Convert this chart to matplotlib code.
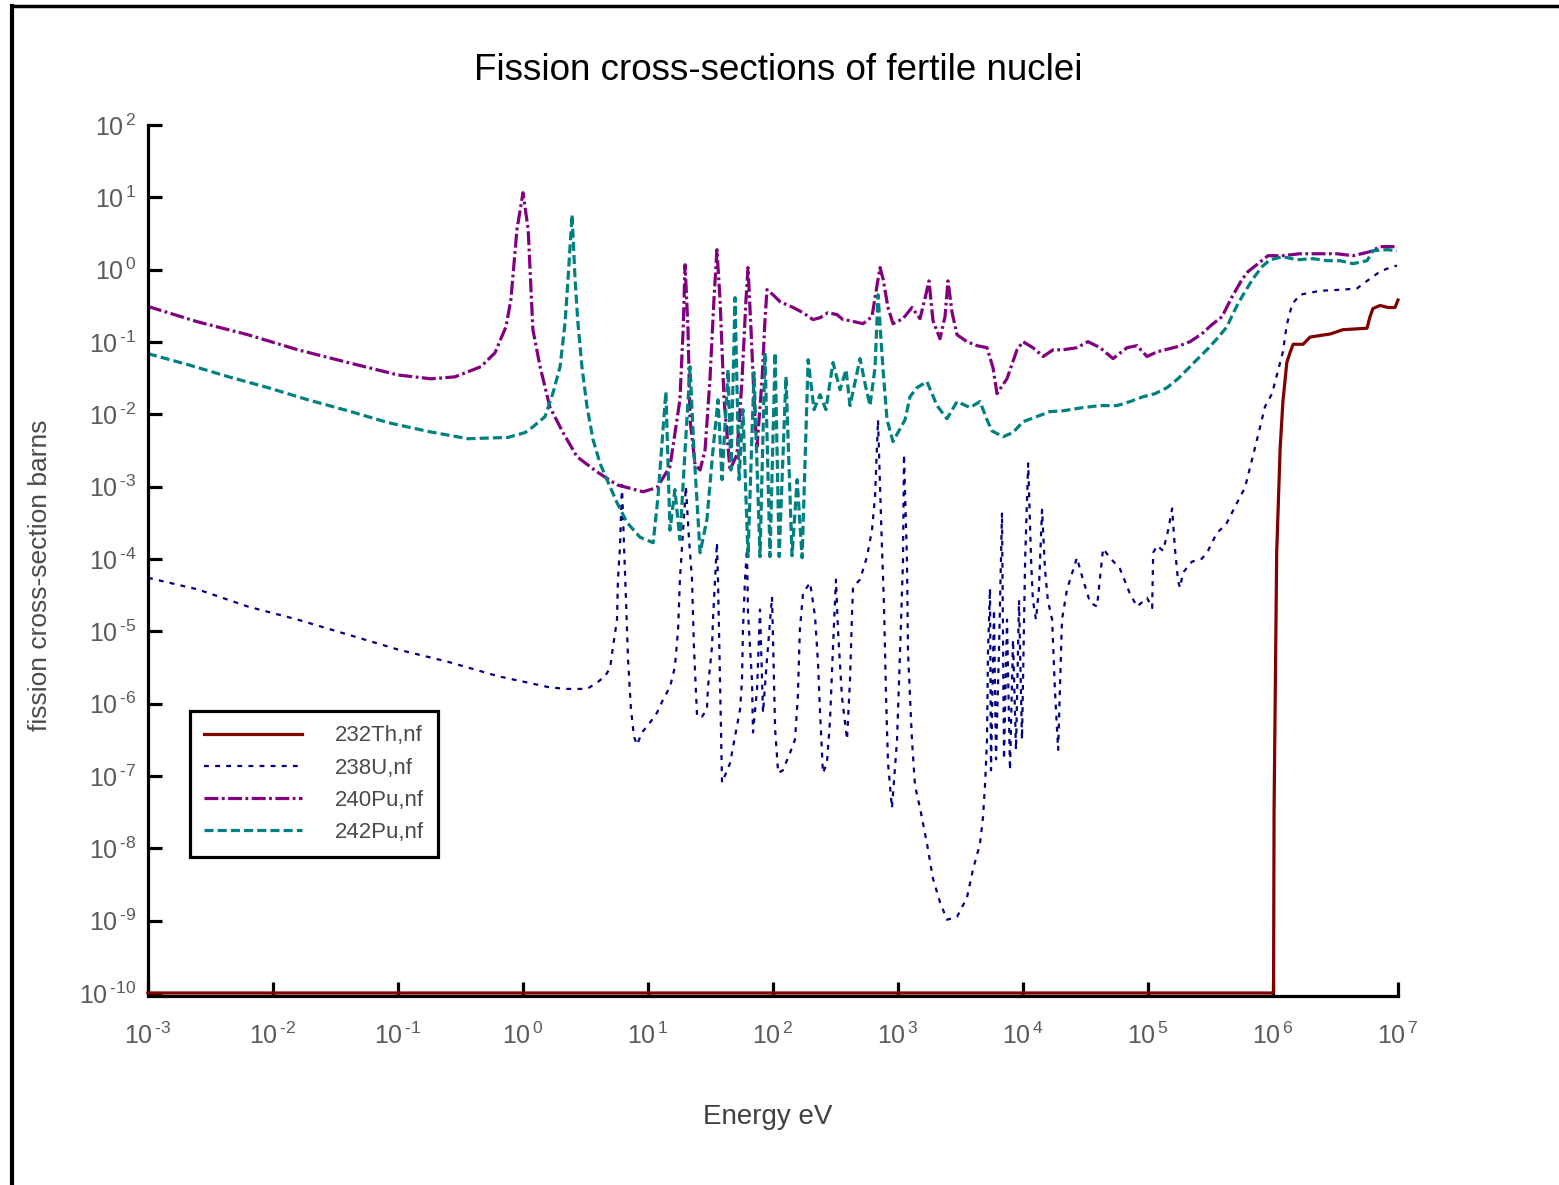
"""Fission cross-sections of fertile nuclei (232Th, 238U, 240Pu, 242Pu)
"""
import matplotlib
matplotlib.use('Agg')
import matplotlib.pyplot as plt
from matplotlib.lines import Line2D
from matplotlib.ticker import FixedLocator, NullLocator, FixedFormatter
from matplotlib import font_manager

# ---- data (energy in eV, cross-section in barns) ----
th232_e = [1e-3, 1.01e6, 1.02e6, 1.07e6, 1.14e6, 1.2e6, 1.29e6, 1.37e6, 1.45e6,
           1.74e6, 1.98e6, 2.86e6, 3.63e6, 5.65e6, 5.97e6, 6.3e6, 7.18e6,
           8.3e6, 9.46e6, 1e7]
th232_xs = [1e-10, 1e-10, 3.4e-8, 1.2e-4, 3.3e-3, 1.5e-2, 5.2e-2, 7.2e-2, 9.3e-2,
            9.3e-2, 0.117, 0.129, 0.148, 0.155, 0.224, 0.29, 0.32,
            0.30, 0.30, 0.38]

u238_e = [1e-3, 2.5e-3, 6.3e-3, 1.58e-2, 3.98e-2, 0.1, 0.25, 0.63, 1.58, 2.17,
          3.25, 3.91, 4.53, 4.97, 5.25, 5.65, 5.75, 5.97, 6.19, 6.43,
          6.67, 6.92, 7.31, 7.73, 8.17, 8.95, 10.4, 11.8, 13.2, 15.0,
          16.4, 17.4, 18.0, 19.1, 20.1, 21.3, 22.5, 23.3, 24.7, 27.0,
          29.6, 30.2, 32.5, 33.1, 34.4, 35.6, 36.3, 37.7, 39.1, 42.1,
          45.3, 47.9, 51.5, 54.5, 56.5, 57.5, 59.7, 61.9, 63.1, 67.9,
          69.2, 74.5, 78.7, 83.2, 89.5, 98.2, 104, 110, 120, 137,
          150, 158, 164, 174, 198, 217, 229, 238, 251, 270,
          286, 302, 319, 331, 356, 391, 413, 429, 437, 497,
          565, 619, 655, 692, 731, 773, 802, 832, 895, 982,
          1038, 1096, 1117, 1180, 1202, 1294, 1368, 1500, 1706, 1905,
          2168, 2466, 2965, 3565, 3981, 4529, 4786, 4966, 5152, 5248,
          5445, 5546, 5861, 6081, 6427, 6792, 7047, 7447, 7870, 8318,
          8790, 9290, 9817, 1.04e4, 1.10e4, 1.16e4, 1.20e4, 1.27e4, 1.34e4, 1.42e4,
          1.50e4, 1.58e4, 1.71e4, 1.80e4, 1.91e4, 2.05e4, 2.25e4, 2.70e4, 3.02e4, 3.44e4,
          3.91e4, 4.37e4, 4.97e4, 5.97e4, 7.18e4, 8.17e4, 9.82e4, 1.08e5, 1.10e5, 1.18e5,
          1.32e5, 1.45e5, 1.56e5, 1.64e5, 1.74e5, 1.80e5, 1.91e5, 2.25e5, 2.70e5, 3.02e5,
          3.56e5, 4.21e5, 4.97e5, 5.97e5, 6.92e5, 7.59e5, 8.63e5, 9.82e5, 1.08e6, 1.20e6,
          1.29e6, 1.42e6, 1.64e6, 2.38e6, 3.63e6, 4.70e6, 5.97e6, 7.18e6, 8.17e6, 9.82e6]
u238_xs = [5.5e-5, 3.8e-5, 2.2e-5, 1.45e-5, 9.0e-6, 5.6e-6, 3.8e-6, 2.4e-6, 1.7e-6, 1.6e-6,
           1.6e-6, 1.95e-6, 2.4e-6, 3.1e-6, 6.1e-6, 1.45e-5, 5.2e-5, 1.48e-4, 1.06e-3, 1.48e-4,
           2.7e-5, 4.1e-6, 8.3e-7, 3.5e-7, 2.7e-7, 4.0e-7, 5.5e-7, 7.5e-7, 1.14e-6, 1.7e-6,
           3.2e-6, 1.05e-5, 5.2e-5, 2.5e-4, 1.0e-3, 1.85e-4, 5.2e-5, 6.1e-6, 6.6e-7, 6.6e-7,
           8.3e-7, 1.7e-6, 6.1e-6, 1.45e-5, 5.2e-5, 1.68e-4, 5.2e-5, 2.1e-6, 8.1e-8, 1.1e-7,
           1.5e-7, 2.5e-7, 4.8e-7, 8.3e-7, 2.1e-6, 1.05e-5, 5.2e-5, 1.35e-4, 1.8e-5, 2.1e-6,
           4.0e-7, 1.56e-6, 2.0e-5, 7.5e-7, 4.1e-6, 3.0e-5, 4.4e-7, 1.1e-7, 1.2e-7, 2.1e-7,
           3.2e-7, 1.25e-6, 1.05e-5, 3.4e-5, 4.7e-5, 1.6e-5, 3.7e-6, 7.5e-7, 1.1e-7, 1.5e-7,
           6.0e-7, 6.1e-6, 5.2e-5, 1.05e-5, 1.25e-6, 3.2e-7, 2.1e-6, 1.8e-5, 4.1e-5, 5.2e-5,
           1.08e-4, 2.5e-4, 7.3e-4, 8.4e-3, 3.7e-4, 2.2e-5, 1.29e-6, 1.5e-7, 3.6e-8, 3.1e-7,
           5.2e-6, 9.2e-5, 2.8e-3, 9.2e-5, 5.2e-6, 3.1e-7, 7.4e-8, 3.6e-8, 1.16e-8, 3.8e-9,
           1.8e-9, 1.03e-9, 1.13e-9, 2.1e-9, 5.1e-9, 1.16e-8, 2.7e-8, 7.4e-8, 3.1e-7, 5.2e-6,
           3.9e-5, 1.2e-7, 2.0e-5, 1.7e-7, 5.6e-6, 4.4e-4, 1.7e-7, 1.45e-5, 1.2e-7, 7.7e-6,
           2.3e-7, 2.7e-5, 3.2e-7, 9.8e-5, 2.1e-3, 9.8e-5, 2.7e-5, 1.45e-5, 3.8e-5, 4.8e-4,
           7.1e-5, 2.7e-5, 1.45e-5, 1.56e-6, 2.3e-7, 1.45e-5, 3.8e-5, 1.04e-4, 5.2e-5, 2.5e-5,
           2.2e-5, 1.39e-4, 1.04e-4, 7.3e-5, 3.3e-5, 2.2e-5, 2.9e-5, 2.1e-5, 1.22e-4, 1.53e-4,
           1.3e-4, 2.5e-4, 5.0e-4, 1.43e-4, 5.0e-5, 4.0e-5, 6.5e-5, 9.2e-5, 1.01e-4, 1.3e-4,
           2.3e-4, 3.0e-4, 5.3e-4, 9.7e-4, 2.7e-3, 5.1e-3, 0.0128, 0.0193, 0.0365, 0.073,
           0.174, 0.33, 0.45, 0.51, 0.53, 0.55, 0.75, 0.94, 1.03, 1.14]

pu240_e = [1e-3, 2.5e-3, 6.3e-3, 1.58e-2, 3.98e-2, 0.1, 0.184, 0.286, 0.461, 0.597,
           0.731, 0.80, 0.895, 1.0, 1.10, 1.2, 1.37, 1.64, 2.09, 2.7,
           3.91, 5.65, 9.12, 11.8, 15.0, 18.0, 19.1, 19.8, 20.9, 21.7,
           23.8, 26.1, 28.6, 31.3, 33.7, 35.6, 37.7, 40.6, 45.3, 51.5,
           56.5, 60.8, 63.1, 66.7, 71.8, 74.5, 81.7, 86.3, 89.5, 100,
           114, 145, 174, 209, 238, 275, 325, 363, 413, 525,
           619, 679, 718, 759, 832, 912, 1096, 1294, 1500, 1644,
           1770, 1905, 2168, 2377, 2512, 2704, 2965, 3565, 4285, 5152,
           5754, 6194, 7447, 8954, 1.0e4, 1.20e4, 1.45e4, 1.74e4, 2.09e4, 2.70e4,
           3.31e4, 4.13e4, 5.25e4, 6.79e4, 8.17e4, 9.82e4, 1.18e5, 1.71e5, 2.17e5, 2.70e5,
           3.25e5, 3.91e5, 4.70e5, 5.65e5, 6.31e5, 7.59e5, 9.12e5, 1.20e6, 1.64e6, 2.38e6,
           3.25e6, 4.37e6, 5.97e6, 7.18e6, 1e7]
pu240_xs = [0.31, 0.19, 0.126, 0.078, 0.052, 0.035, 0.031, 0.033, 0.0456, 0.071,
            0.163, 0.385, 3.6, 11.6, 3.6, 0.148, 0.0456, 0.0126, 0.0056, 0.0026,
            0.0016, 0.00106, 0.00085, 0.00097, 0.0019, 0.0159, 0.148, 1.17, 0.148, 0.0084,
            0.0020, 0.0017, 0.0032, 0.030, 0.385, 1.89, 0.385, 0.0159, 0.0017, 0.0028,
            0.030, 0.385, 1.07, 0.148, 0.0084, 0.0036, 0.030, 0.204, 0.53, 0.45,
            0.36, 0.30, 0.254, 0.204, 0.217, 0.254, 0.239, 0.204, 0.197, 0.179,
            0.224, 0.60, 1.07, 0.75, 0.30, 0.179, 0.21, 0.30, 0.21, 0.40,
            0.70, 0.197, 0.111, 0.224, 0.70, 0.26, 0.126, 0.101, 0.089, 0.0835,
            0.0442, 0.0193, 0.0311, 0.078, 0.101, 0.0835, 0.063, 0.078, 0.078, 0.0835,
            0.101, 0.0835, 0.059, 0.0835, 0.089, 0.063, 0.073, 0.086, 0.101, 0.13,
            0.174, 0.224, 0.42, 0.73, 0.94, 1.21, 1.56, 1.56, 1.66, 1.66,
            1.66, 1.56, 1.77, 2.08, 2.08]

pu242_e = [1e-3, 2.09e-3, 4.37e-3, 9.1e-3, 1.9e-2, 3.98e-2, 8.3e-2, 0.174, 0.363, 0.759,
           1.04, 1.2, 1.5, 1.74, 1.98, 2.17, 2.29, 2.47, 2.61, 2.75,
           2.96, 3.25, 3.63, 4.13, 4.97, 5.65, 6.79, 8.63, 11.0, 12.0,
           13.9, 15.0, 16.4, 18.0, 19.8, 21.7, 23.3, 26.1, 29.6, 33.1,
           36.3, 39.1, 43.7, 46.1, 49.7, 53.5, 57.5, 63.1, 70.5, 78.7,
           86.3, 94.6, 104, 112, 127, 142, 156, 171, 191, 213,
           238, 265, 302, 344, 384, 413, 497, 545, 597, 655,
           692, 759, 817, 912, 1138, 1247, 1419, 1706, 2051, 2466,
           2965, 3767, 4529, 5152, 5649, 6918, 8318, 1.0e4, 1.29e4, 1.64e4,
           2.09e4, 3.02e4, 4.13e4, 5.65e4, 7.18e4, 9.12e4, 1.14e5, 1.42e5, 1.74e5, 2.09e5,
           2.51e5, 3.02e5, 3.63e5, 4.29e5, 4.70e5, 5.25e5, 6.19e5, 6.92e5, 8.17e5, 9.46e5,
           1.20e6, 1.56e6, 2.09e6, 2.70e6, 3.44e6, 4.37e6, 5.65e6, 6.31e6, 8.17e6, 9.82e6]
pu242_xs = [0.069, 0.0486, 0.0332, 0.0234, 0.0159, 0.0112, 0.0077, 0.0058, 0.0046, 0.0048,
            0.0056, 0.0067, 0.0093, 0.0199, 0.0456, 0.185, 0.73, 5.75, 0.73, 0.185,
            0.0456, 0.0128, 0.0045, 0.0021, 0.0010, 0.0006, 0.00032, 0.0002, 0.000168, 0.0007,
            0.0206, 0.00025, 0.00091, 0.000185, 0.0032, 0.0456, 0.0032, 0.000122, 0.00035, 0.0032,
            0.0159, 0.00125, 0.0414, 0.0017, 0.41, 0.00125, 0.0116, 0.000108, 0.0377, 0.000108,
            0.071, 0.000108, 0.071, 0.000108, 0.0332, 0.000111, 0.00125, 0.000104, 0.057, 0.0116,
            0.0187, 0.0116, 0.052, 0.0219, 0.0414, 0.0132, 0.059, 0.0265, 0.0132, 0.0442,
            0.45, 0.0414, 0.0084, 0.0042, 0.0084, 0.0175, 0.0234, 0.0283, 0.0132, 0.0087,
            0.0150, 0.0124, 0.0150, 0.0084, 0.0059, 0.0049, 0.0056, 0.0079, 0.0093, 0.0109,
            0.0112, 0.0124, 0.0132, 0.0132, 0.0150, 0.0175, 0.0193, 0.0234, 0.0311, 0.0428,
            0.059, 0.081, 0.115, 0.163, 0.231, 0.34, 0.55, 0.75, 1.10, 1.37,
            1.51, 1.37, 1.42, 1.33, 1.33, 1.21, 1.33, 1.83, 1.89, 1.83]

x_decades = list(range(-3, 8))
y_decades = list(range(-10, 3))


def decade_label(k):
    # short hyphen in the exponent, like the original plot
    exp = str(k).replace('-', '\u2010')
    return r'$10^{\,%s}$' % exp


# ---- fonts ----
installed = {f.name for f in font_manager.fontManager.ttflist}
narrow = 'Liberation Sans Narrow' if 'Liberation Sans Narrow' in installed else 'Liberation Sans'
plt.rcParams['font.family'] = ['Liberation Sans', 'DejaVu Sans']
plt.rcParams['mathtext.fontset'] = 'custom'
plt.rcParams['mathtext.rm'] = 'Liberation Sans'
plt.rcParams['mathtext.default'] = 'regular'
plt.rcParams['lines.scale_dashes'] = False

W, H = 1559, 1185
fig = plt.figure(figsize=(W / 100, H / 100), dpi=100)
ax = fig.add_axes([148 / W, 1 - 993 / H, 1250 / W, 868 / H])

th, = ax.plot(th232_e, th232_xs, color='#800000', lw=2.3, clip_on=False, zorder=4,
              label='232Th,nf')
u, = ax.plot(u238_e, u238_xs, color='#000080', lw=1.6, ls=(0, (3.5, 4.5)),
             label='238U,nf')
p0, = ax.plot(pu240_e, pu240_xs, color='#800080', lw=2.3, ls=(0, (10, 2.5, 2, 2.5)),
              label='240Pu,nf')
p2, = ax.plot(pu242_e, pu242_xs, color='#008080', lw=2.3, ls=(0, (6.5, 3)),
              label='242Pu,nf')

ax.set_xscale('log')
ax.set_yscale('log')
ax.set_xlim(1e-3, 1e7)
ax.set_ylim(1e-10, 1e2)

ax.xaxis.set_major_locator(FixedLocator([10.0 ** k for k in x_decades]))
ax.xaxis.set_major_formatter(FixedFormatter([decade_label(k) for k in x_decades]))
ax.yaxis.set_major_locator(FixedLocator([10.0 ** k for k in y_decades]))
ax.yaxis.set_major_formatter(FixedFormatter([decade_label(k) for k in y_decades]))
ax.xaxis.set_minor_locator(NullLocator())
ax.yaxis.set_minor_locator(NullLocator())

for side in ('top', 'right'):
    ax.spines[side].set_visible(False)
for side in ('left', 'bottom'):
    ax.spines[side].set_linewidth(2.3)
ax.spines['bottom'].set_position(('outward', 2))

ax.tick_params(axis='both', direction='in', length=10, width=2.3, colors='black',
               labelcolor='#5a5a5a', labelsize=18)
ax.tick_params(axis='x', pad=19)
ax.tick_params(axis='y', pad=8)

leg = ax.legend(handles=[th, u, p0, p2], loc='upper left',
                bbox_to_anchor=(190 / W, 1 - 711 / H), bbox_transform=fig.transFigure,
                borderaxespad=0, fontsize=16, handlelength=4.4, handletextpad=1.45,
                labelspacing=0.5, borderpad=0.65, fancybox=False, framealpha=1)
leg.get_frame().set_edgecolor('black')
leg.get_frame().set_linewidth(2.3)
for t in leg.get_texts():
    t.set_color('#4a4a4a')

fig.text(778 / W, 1 - 70 / H, 'Fission cross-sections of fertile nuclei',
         family=narrow, fontsize=26.5, ha='center', va='center', color='black')
fig.text(768 / W, 1 - 1117 / H, 'Energy eV', fontsize=20, ha='center', va='center',
         color='#404040')
fig.text(40 / W, 1 - 575 / H, 'fission cross-section barns', fontsize=19,
         rotation=90, ha='center', va='center', color='#4a4a4a')

# page frame (left and top edges)
fig.add_artist(Line2D([12 / W, 12 / W], [0, 1 - 6 / H], transform=fig.transFigure,
                      color='black', lw=3))
fig.add_artist(Line2D([12 / W, 1], [1 - 6 / H, 1 - 6 / H], transform=fig.transFigure,
                      color='black', lw=2.5))

fig.savefig('out.png', dpi=100)
